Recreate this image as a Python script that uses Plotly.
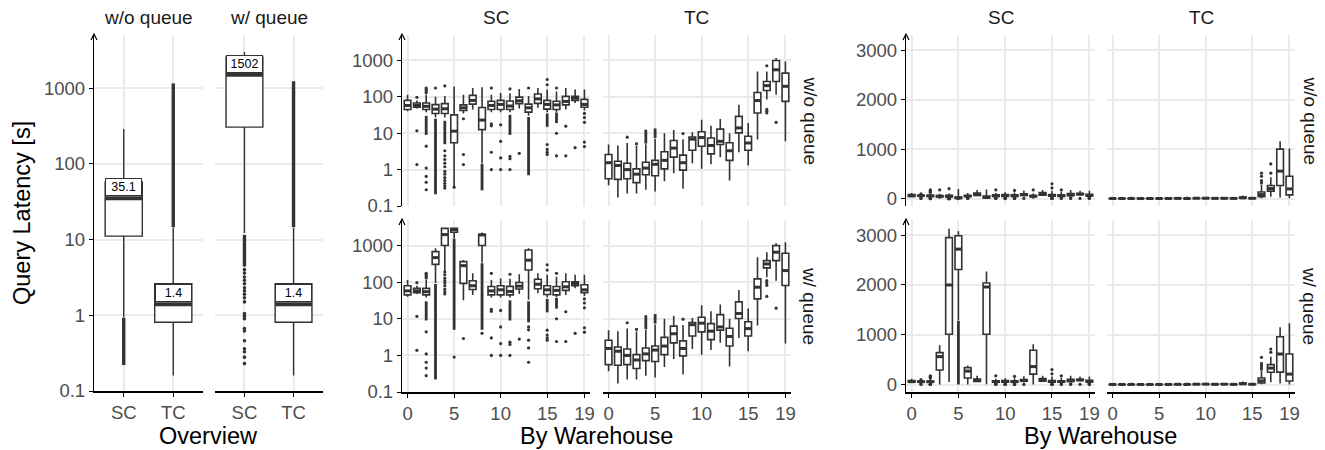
import math
import plotly.graph_objects as go

# ---------------- data ----------------
warehouses = list(range(20))
systems = ["SC", "TC"]
queue_modes = ["w/o queue", "w/ queue"]

# Overview (index 0 = SC, 1 = TC)
ov_noq_q1 = [11.1, 0.81]
ov_noq_med = [35.1, 1.4]
ov_noq_q3 = [57.4, 2.6]
ov_noq_lo = [0.95, 0.16]
ov_noq_hi = [288, 14.2]
ov_noq_dense = {0: (0.22, 0.93), 1: (14.5, 1150)}
ov_noq_out = {}

ov_q_q1 = [305, 0.81]
ov_q_med = [1502, 1.4]
ov_q_q3 = [2566, 2.6]
ov_q_lo = [12.2, 0.16]
ov_q_hi = [2985, 14.2]
ov_q_dense = {0: (4.4, 11.5), 1: (14.5, 1230)}
ov_q_out = {0: [4.0, 3.6, 3.2, 2.9, 2.6, 2.3, 2.1, 1.9, 1.7, 1.5, 1.05, 0.97, 0.9,
                0.67, 0.62, 0.46, 0.36, 0.33, 0.28, 0.23]}

# SC, w/o queue, per warehouse (log-scale statistics)
sc_noq_q1 = [45, 52, 45, 35, 35, 5.5, 42, 63, 12.6, 45, 45, 45, 65, 38, 66, 46, 45, 60, 80, 52]
sc_noq_med = [58, 58, 55, 46, 47, 11.4, 50, 80, 23, 58, 62, 56, 78, 50, 88, 62, 60, 75, 92, 62]
sc_noq_q3 = [80, 68, 68, 61, 65, 32, 60, 110, 51, 76, 80, 77, 98, 63, 120, 80, 76, 103, 103, 85]
sc_noq_lo = [40, 48, 38, 27, 27, 0.35, 35, 45, 1.5, 38, 38, 38, 48, 30, 50, 38, 38, 45, 68, 42]
sc_noq_hi = [115, 80, 115, 100, 105, 193, 115, 175, 185, 115, 127, 125, 165, 105, 175, 160, 140, 175, 160, 160]
sc_noq_out = {1: [97, 11.7, 1.38], 2: [175, 160, 145, 130, 4.4, 1.1, 0.65, 0.45, 0.28], 3: [175],
              4: [200, 3.3, 2.4, 1.9, 1.5, 1.2, 0.9, 0.75, 0.6, 0.5, 0.42, 0.36, 0.31], 5: [0.33],
              6: [25, 2.6, 1.38], 9: [175, 18, 16, 3.0, 1.0], 10: [17, 6.0, 2.1, 1.0],
              11: [165, 2.3, 2.0, 1.0], 12: [2.8], 13: [175], 15: [300, 215, 4.9, 3.6, 3.0, 2.6],
              16: [175, 10, 2.4], 17: [15.6, 2.4], 18: [4.0], 19: [35, 27, 20, 5.7, 4.3]}
sc_noq_dense = {2: (9, 30), 3: (0.21, 25), 4: (5, 22), 8: (0.27, 1.45), 11: (9, 32),
                13: (0.7, 28), 15: (15, 35), 16: (19, 37)}

# SC, w/ queue: warehouses that differ from w/o queue (q1, med, q3, lower, upper)
sc_q_log_override = {
    3: dict(box=(308, 470, 685, 95, 845), dense=(0.22, 90)),
    4: dict(box=(1010, 2000, 2950, 200, 3130), out=[190, 160, 130, 110, 95, 80, 65, 55, 48]),
    5: dict(box=(2310, 2720, 2990, 1600, 3080), dense=(5, 1550), out=[0.9]),
    6: dict(box=(93, 283, 365, 32, 405), out=[2.9]),
    8: dict(box=(1010, 1960, 2040, 340, 2270), dense=(5, 330), out=[4.0]),
    13: dict(box=(215, 400, 760, 33, 845), dense=(8, 30), out=[6, 5, 2.6, 1.6, 0.65]),
}
sc_q_lin_override = {
    3: dict(box=(293, 560, 640, 0.2, 790)),
    4: dict(box=(1010, 2000, 2950, 50, 3130)),
    5: dict(box=(2310, 2720, 2990, 1290, 3080), dense=(0.9, 1280)),
    6: dict(box=(130, 270, 340, 3, 380)),
    8: dict(box=(1010, 1960, 2040, 4, 2270)),
    13: dict(box=(210, 360, 690, 0.65, 810)),
}

# TC, per warehouse (log-scale statistics)
tc_q1 = [0.56, 0.54, 0.56, 0.44, 0.72, 0.68, 1.05, 2.2, 0.97, 3.4, 4.4, 2.7, 4.9, 1.8, 10.2, 3.4, 36, 150, 265, 75]
tc_med = [1.55, 1.3, 1.0, 0.75, 1.1, 1.4, 1.8, 3.9, 1.55, 6.9, 7.6, 4.6, 6.0, 3.3, 14, 5.4, 79, 203, 555, 195]
tc_q3 = [2.6, 1.7, 1.5, 1.05, 1.6, 1.8, 3.1, 6.3, 2.5, 7.9, 11, 7.4, 13, 5.5, 29, 8.3, 132, 265, 1000, 450]
tc_lo = [0.37, 0.17, 0.22, 0.22, 0.28, 0.25, 0.48, 0.8, 0.3, 1.5, 1.05, 1.4, 2.2, 0.5, 3.0, 1.3, 6.7, 84, 115, 6]
tc_hi = [4.9, 4.6, 5.4, 4.5, 5.0, 7.0, 10, 12.2, 6.8, 10.6, 23.6, 16, 24.5, 10, 61, 19, 500, 500, 1160, 940]
tc_out = {2: [7.8], 8: [9.8], 17: [715, 45, 40, 36], 18: [20]}
tc_dense = {3: (4.7, 5.6), 4: (5.2, 12.5), 5: (7.4, 13.5)}

tc_q_log_override = {
    16: dict(box=(35, 73, 123, 6.6, 480)),
    17: dict(box=(246, 316, 390, 137, 660), out=[110, 95, 82, 41]),
    18: dict(box=(390, 660, 1000, 110, 1160), out=[19.5]),
    19: dict(box=(81, 208, 620, 2.1, 1230)),
}
tc_noq_lin_override = {
    16: dict(box=(36, 79, 132, 6.7, 275), dense=(285, 390), out=[450, 513]),
    17: dict(box=(150, 203, 265, 36, 430), out=[513, 700]),
    18: dict(box=(265, 555, 1000, 20, 1160)),
    19: dict(box=(75, 195, 450, 6, 1010)),
}
tc_q_lin_override = {
    16: dict(box=(30, 73, 130, 6, 270), dense=(280, 450), out=[547]),
    17: dict(box=(247, 330, 400, 47, 560), out=[647, 713]),
    18: dict(box=(250, 613, 960, 19.5, 1150)),
    19: dict(box=(70, 210, 613, 2, 1230)),
}

log_tick_vals = [0.1, 1, 10, 100, 1000]
log_tick_text = ["0.1", "1", "10", "100", "1000"]
lin_tick_vals = [0, 1000, 2000, 3000]
lin_tick_text = ["0", "1000", "2000", "3000"]
wh_tick_vals = [0, 5, 10, 15, 19]


# ---------------- helpers ----------------
def make_stats(q1, med, q3, lo, hi, out, dense):
    return dict(q1=list(q1), med=list(med), q3=list(q3), lo=list(lo), hi=list(hi),
                out={k: list(v) for k, v in out.items()}, dense=dict(dense))


def apply_override(s, override):
    s = dict(q1=list(s["q1"]), med=list(s["med"]), q3=list(s["q3"]), lo=list(s["lo"]),
             hi=list(s["hi"]), out={k: list(v) for k, v in s["out"].items()}, dense=dict(s["dense"]))
    for w, o in override.items():
        s["q1"][w], s["med"][w], s["q3"][w], s["lo"][w], s["hi"][w] = o["box"]
        s["out"][w] = list(o.get("out", []))
        if o.get("dense"):
            s["dense"][w] = o["dense"]
        else:
            s["dense"].pop(w, None)
    return s


W, H = 1325, 450
FONT = "Liberation Sans, Arial, sans-serif"
INK = "#333333"
GRID = "#ebebeb"
TICKC = "#4d4d4d"
TXT = "#1a1a1a"
TICK_SIZE = 18.5
STRIP_SIZE = 19
TITLE_SIZE = 23.5


def fx(p):
    return p / W


def fy(p):
    return 1 - p / H


fig = go.Figure()

# ---------------- panels ----------------
ov_noq = make_stats(ov_noq_q1, ov_noq_med, ov_noq_q3, ov_noq_lo, ov_noq_hi, ov_noq_out, ov_noq_dense)
ov_q = make_stats(ov_q_q1, ov_q_med, ov_q_q3, ov_q_lo, ov_q_hi, ov_q_out, ov_q_dense)
sc_noq = make_stats(sc_noq_q1, sc_noq_med, sc_noq_q3, sc_noq_lo, sc_noq_hi, sc_noq_out, sc_noq_dense)
sc_q = apply_override(sc_noq, sc_q_log_override)
sc_q_lin = apply_override(sc_q, sc_q_lin_override)
tc_noq = make_stats(tc_q1, tc_med, tc_q3, tc_lo, tc_hi, tc_out, tc_dense)
tc_q = apply_override(tc_noq, tc_q_log_override)
tc_noq_lin = apply_override(tc_noq, tc_noq_lin_override)
tc_q_lin = apply_override(tc_q, tc_q_lin_override)

# k, x0, x1, y0, y1, stats, kind, bottom, left
ROW1 = (35, 206)
ROW2 = (220, 392)
panels = [
    (1, 94, 203, 35, 391, ov_noq, "ov", True, True),
    (2, 215, 323, 35, 391, ov_q, "ov", True, False),
    (3, 402, 590, *ROW1, sc_noq, "log", False, True),
    (4, 603, 791, *ROW1, tc_noq, "log", False, False),
    (5, 402, 590, *ROW2, sc_q, "log", True, True),
    (6, 603, 791, *ROW2, tc_q, "log", True, False),
    (7, 906, 1095, *ROW1, sc_noq, "lin", False, True),
    (8, 1107, 1295, *ROW1, tc_noq_lin, "lin", False, False),
    (9, 906, 1095, *ROW2, sc_q_lin, "lin", True, True),
    (10, 1107, 1295, *ROW2, tc_q_lin, "lin", True, False),
]

layout = dict(width=W, height=H, autosize=False, margin=dict(l=0, r=0, t=0, b=0, pad=0),
              paper_bgcolor="white", plot_bgcolor="white", showlegend=False, boxmode="overlay",
              font=dict(family=FONT, color=TXT))
annotations = []
shapes = []

for k, x0, x1, y0, y1, s, kind, bottom, left in panels:
    xr = "x" if k == 1 else f"x{k}"
    yr = "y" if k == 1 else f"y{k}"
    if kind == "ov":
        pos = [1, 2]
        bw, lw, medw, msize, densew = 0.75, 1.4, 4, 3.6, 3.4
        xrange = [0.4, 2.6]
        xtv, xtt = pos, systems
    else:
        pos = warehouses
        bw, lw, medw, msize, densew = 0.72, 1.6, 3.0, 3.2, 2.8
        xrange = [-0.6, 19.6]
        xtv, xtt = wh_tick_vals, [str(v) for v in wh_tick_vals]
    if kind in ("ov", "log"):
        ytype, yrange, ytv, ytt = "log", [-1, 3.7], log_tick_vals, log_tick_text
    else:
        ytype, yrange, ytv, ytt = "linear", [-150, 3305], lin_tick_vals, lin_tick_text

    # dense outlier runs
    dx, dy = [], []
    for i, (a, b) in s["dense"].items():
        dx += [pos[i], pos[i], None]
        dy += [a, b, None]
    if dx:
        fig.add_trace(go.Scatter(x=dx, y=dy, mode="lines", line=dict(color=INK, width=densew),
                                 xaxis=xr, yaxis=yr, hoverinfo="skip"))
    # single outliers
    ox, oy = [], []
    for i, vals in s["out"].items():
        ox += [pos[i]] * len(vals)
        oy += vals
    if ox:
        fig.add_trace(go.Scatter(x=ox, y=oy, mode="markers",
                                 marker=dict(color=INK, size=msize, line=dict(width=0)),
                                 xaxis=xr, yaxis=yr, hoverinfo="skip"))
    # boxes
    fig.add_trace(go.Box(x=pos, q1=s["q1"], median=s["med"], q3=s["q3"],
                         lowerfence=s["lo"], upperfence=s["hi"], width=bw, whiskerwidth=0,
                         boxpoints=False, fillcolor="white", line=dict(color=INK, width=lw),
                         xaxis=xr, yaxis=yr, hoverinfo="skip"))
    # thick median bars
    mx, my = [], []
    for p, m in zip(pos, s["med"]):
        mx += [p - bw / 2, p + bw / 2, None]
        my += [m, m, None]
    fig.add_trace(go.Scatter(x=mx, y=my, mode="lines", line=dict(color=INK, width=medw),
                             xaxis=xr, yaxis=yr, hoverinfo="skip"))

    xname = "xaxis" if k == 1 else f"xaxis{k}"
    yname = "yaxis" if k == 1 else f"yaxis{k}"
    layout[xname] = dict(domain=[fx(x0), fx(x1)], range=xrange, anchor=yr, tickmode="array",
                         tickvals=xtv, ticktext=xtt, showgrid=True, gridcolor=GRID, gridwidth=1.5,
                         zeroline=False, showticklabels=bottom, ticks="outside" if bottom else "",
                         ticklen=4, tickwidth=1.3, tickcolor="black", automargin=False,
                         showline=bottom, linecolor="black", linewidth=1.6,
                         tickfont=dict(size=TICK_SIZE, color=TICKC, family=FONT), fixedrange=True)
    layout[yname] = dict(domain=[fy(y1), fy(y0)], type=ytype, range=yrange, anchor=xr,
                         tickmode="array", tickvals=ytv, ticktext=ytt, showgrid=True,
                         gridcolor=GRID, gridwidth=1.5, zeroline=False, showticklabels=left,
                         ticks="outside" if left else "", ticklen=4, tickwidth=1.3,
                         tickcolor="black", showline=left, linecolor="black", linewidth=1.3,
                         automargin=False,
                         tickfont=dict(size=TICK_SIZE, color=TICKC, family=FONT), fixedrange=True)
    if left:
        shapes.append(dict(type="path", xref="paper", yref="paper",
                           path=f"M {fx(x0 - 3)},{fy(y0 + 5)} L {fx(x0)},{fy(y0 - 1)} L {fx(x0 + 3)},{fy(y0 + 5)}",
                           line=dict(color="black", width=1.2)))
    # median labels on the overview panels
    if kind == "ov":
        for p, m in zip(pos, s["med"]):
            annotations.append(dict(x=p, y=math.log10(m), xref=xr, yref=yr, text=f"{m:g}",
                                    showarrow=False, yanchor="bottom", yshift=2,
                                    font=dict(size=12.5, color="black", family=FONT),
                                    bgcolor="white", bordercolor=INK, borderwidth=1, borderpad=1,
                                    width=33))


# strip labels (top)
def top_strip(text, x0, x1):
    annotations.append(dict(x=fx((x0 + x1) / 2), y=fy(17), xref="paper", yref="paper", text=text,
                            showarrow=False, font=dict(size=STRIP_SIZE, color=TXT, family=FONT),
                            xanchor="center", yanchor="middle"))


top_strip(queue_modes[0], 94, 203)
top_strip(queue_modes[1], 215, 323)
top_strip(systems[0], 402, 590)
top_strip(systems[1], 603, 791)
top_strip(systems[0], 906, 1095)
top_strip(systems[1], 1107, 1295)

# strip labels (right)
for xpx in (810, 1310):
    for (ya, yb), txt in zip((ROW1, ROW2), queue_modes):
        annotations.append(dict(x=fx(xpx), y=fy((ya + yb) / 2), xref="paper", yref="paper",
                                text=txt, textangle=90, showarrow=False,
                                font=dict(size=STRIP_SIZE, color=TXT, family=FONT),
                                xanchor="center", yanchor="middle"))

# axis titles
annotations.append(dict(x=fx(22), y=fy(213), xref="paper", yref="paper", text="Query Latency [s]",
                        textangle=-90, showarrow=False,
                        font=dict(size=TITLE_SIZE, color="black", family=FONT),
                        xanchor="center", yanchor="middle"))
for txt, xa, xb in (("Overview", 94, 323), ("By Warehouse", 402, 791), ("By Warehouse", 906, 1295)):
    annotations.append(dict(x=fx((xa + xb) / 2), y=fy(436), xref="paper", yref="paper", text=txt,
                            showarrow=False, font=dict(size=TITLE_SIZE, color="black", family=FONT),
                            xanchor="center", yanchor="middle"))

layout["annotations"] = annotations
layout["shapes"] = shapes
fig.update_layout(**layout)
fig.write_html(
    "out.html",
    config={"displayModeBar": False, "responsive": False},
    post_script="document.body.style.margin='0px';document.body.style.padding='0px';"
                "document.documentElement.style.overflow='hidden';",
)
